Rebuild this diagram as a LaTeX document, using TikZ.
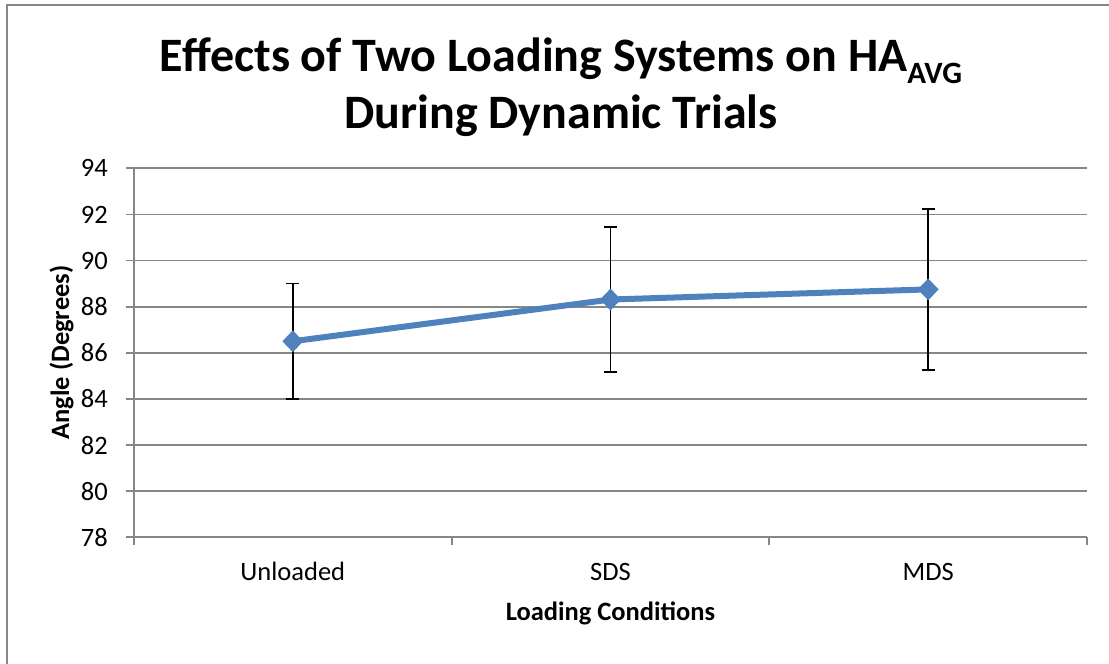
\documentclass[tikz,border=0pt]{standalone}
\usepackage{fontspec}
\setmainfont{Carlito}
\usetikzlibrary{shapes.geometric}
\definecolor{gridgray}{RGB}{134,134,134}
\definecolor{serblue}{RGB}{79,129,189}
\begin{document}
\begin{tikzpicture}[x=1pt,y=-1pt,
  grid/.style={draw=gridgray,line width=1.8pt},
  ticklab/.style={anchor=east,inner sep=0pt,font=\fontsize{26.5}{26.5}\selectfont},
  catlab/.style={anchor=base,inner sep=0pt,font=\fontsize{26.5}{26.5}\selectfont},
  axtitle/.style={inner sep=0pt,font=\bfseries\fontsize{26.5}{26.5}\selectfont},
  marker/.style={diamond,fill=serblue,inner sep=0pt,minimum width=21pt,minimum height=22pt},
  errbar/.style={draw=black,line width=1.6pt},
  series/.style={draw=serblue,line width=6pt}]
\useasboundingbox (0,0) rectangle (1109,664);
% chart frame
\draw[draw=gridgray,line width=2pt] (7,700) -- (7,5) -- (1120,5);
% title
\node[anchor=base,inner sep=0pt,font=\bfseries\fontsize{48}{48}\selectfont] (t1) at (561,71)
  {Effects of Two Loading Systems on HA\raisebox{-12pt}{\fontsize{31}{31}\selectfont AVG}};
\node[anchor=base,inner sep=0pt,font=\bfseries\fontsize{48}{48}\selectfont] (t2) at (561,128)
  {During Dynamic Trials};
% gridlines and y labels
\foreach \v [count=\i from 0] in {94,92,90,88,86,84,82,80,78} {
  \draw[grid] (126,168.3+46.125*\i) -- (1087,168.3+46.125*\i);
  \node[ticklab] (y\v) at (108,168.3+46.125*\i) {\v};
}
% vertical axis
\draw[grid] (134,168.3) -- (134,545);
% category ticks
\draw[grid] (451.7,537.3) -- (451.7,545);
\draw[grid] (769.3,537.3) -- (769.3,545);
\draw[grid] (1087,537.3) -- (1087,545);
% category labels
\node[catlab] (cU) at (292.8,580) {Unloaded};
\node[catlab] (cS) at (610.5,580) {SDS};
\node[catlab] (cM) at (928.2,580) {MDS};
% axis titles
\node[axtitle,anchor=base] (xt) at (610.5,620) {Loading Conditions};
\node[axtitle,anchor=base,rotate=90] (yt) at (69,352.5) {Angle (Degrees)};
% data: y(v) = 168.3 + (94-v)*23.0625
\coordinate (pU) at (292.8,{168.3+(94-86.5)*23.0625});
\coordinate (pS) at (610.5,{168.3+(94-88.31)*23.0625});
\coordinate (pM) at (928.2,{168.3+(94-88.75)*23.0625});
\coordinate (uT) at (292.8,{168.3+(94-89.0)*23.0625});
\coordinate (uB) at (292.8,{168.3+(94-84.0)*23.0625});
\coordinate (sT) at (610.5,{168.3+(94-91.45)*23.0625});
\coordinate (sB) at (610.5,{168.3+(94-85.17)*23.0625});
\coordinate (mT) at (928.2,{168.3+(94-92.24)*23.0625});
\coordinate (mB) at (928.2,{168.3+(94-85.25)*23.0625});
% error bars
\foreach \t/\b in {uT/uB,sT/sB,mT/mB} {
  \draw[errbar] (\t) -- (\b);
  \draw[errbar] ([xshift=-6.5pt]\t) -- ([xshift=6.5pt]\t);
  \draw[errbar] ([xshift=-6.5pt]\b) -- ([xshift=6.5pt]\b);
}
% series
\draw[series,line join=round] (pU) -- (pS) -- (pM);
\node[marker] (mU) at (pU) {};
\node[marker] (mS) at (pS) {};
\node[marker] (mM) at (pM) {};
\end{tikzpicture}
\end{document}
